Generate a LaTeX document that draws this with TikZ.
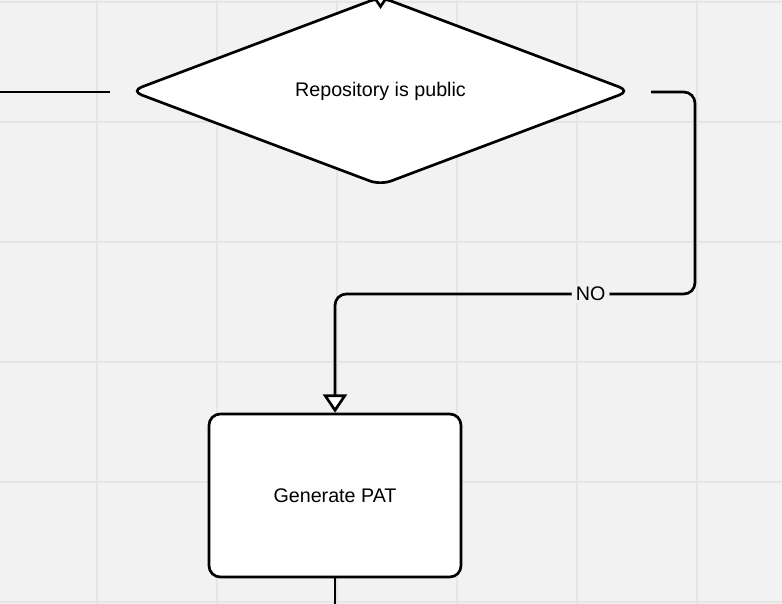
\documentclass[tikz,border=0pt]{standalone}
\usepackage{fontspec}
\setmainfont{Liberation Sans}
\usetikzlibrary{shapes.geometric,arrows.meta}
\begin{document}
\begin{tikzpicture}[x=0.025cm,y=-0.025cm,
        grid line/.style={draw=black!10, line width=.8pt},
        flow/.style={line width=1.9pt, rounded corners=8},
        open tip/.style={-{Triangle[open,fill=white,width=17pt,length=13pt]}},
        step box/.style={draw, line width=1.9pt, fill=white, rounded corners=8,
          minimum width=252*0.025cm, minimum height=163*0.025cm,
          font=\fontsize{14}{16}\selectfont},
        decision/.style={diamond, draw, line width=1.9pt, fill=white, rounded corners=8,
          minimum width=500*0.025cm, minimum height=176*0.025cm, inner sep=0pt,
          font=\fontsize{14}{16}\selectfont}]
        \useasboundingbox[fill=black!5] (0,0) rectangle (782,604);
        \foreach \gx in {97,217,...,697} \draw[grid line] (\gx,0) -- (\gx,604);
        \foreach \gy in {2,122,...,602} \draw[grid line] (0,\gy) -- (782,\gy);

        \node[decision] (public) at (380.5,91) {Repository is public};
        \node[step box] (pat) at (335,495.5) {Generate PAT};

        \coordinate (top in) at (380.5,-10);
        \coordinate (left out) at (0,92);
        \coordinate (left end) at (110,92);
        \coordinate (right out) at (651,92);
        \coordinate (bottom out) at (335,604);

        \draw[flow, open tip] (top in) -- (380.5,9);
        \draw[flow] (left out) -- (left end);
        \draw[flow, open tip] (right out) -- (695,92) -- (695,294) -- (335,294)
          node[pos=.29, fill=black!5, inner sep=3pt, font=\fontsize{14}{16}\selectfont] {NO}
          -- (pat.north);
        \draw[flow] (pat.south) -- (bottom out);
\end{tikzpicture}
\end{document}
